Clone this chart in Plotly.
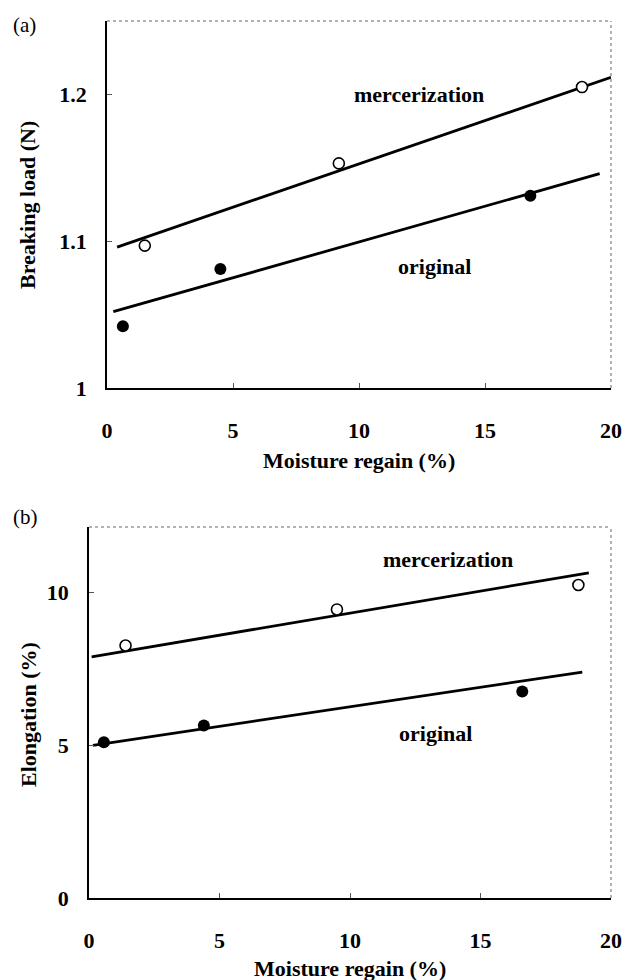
import plotly.graph_objects as go

# ---------------- data ----------------
# Panel (a): breaking load (N) vs moisture regain (%)
merc_a_x = [1.5, 9.2, 18.85]
merc_a_y = [1.097, 1.153, 1.205]
orig_a_x = [0.63, 4.5, 16.8]
orig_a_y = [1.042, 1.081, 1.131]
merc_a_fit_x = [0.4, 20.0]
merc_a_fit_y = [1.096, 1.2116]
orig_a_fit_x = [0.25, 19.55]
orig_a_fit_y = [1.052, 1.146]

# Panel (b): elongation (%) vs moisture regain (%)
merc_b_x = [1.4, 9.5, 18.75]
merc_b_y = [8.27, 9.45, 10.25]
orig_b_x = [0.57, 4.4, 16.6]
orig_b_y = [5.1, 5.65, 6.76]
merc_b_fit_x = [0.1, 19.15]
merc_b_fit_y = [7.9, 10.65]
orig_b_fit_x = [0.15, 18.9]
orig_b_fit_y = [5.0, 7.4]

x_ticks = [0, 5, 10, 15, 20]
y_ticks_a = [1, 1.1, 1.2]
y_ticks_b = [0, 5, 10]

# ---------------- figure ----------------
W, H = 626, 980
FONT = "Liberation Serif"


def px_x(p):
    return p / W


def px_y(p):
    return 1 - p / H


fig = go.Figure()

line_style = dict(color="black", width=2.8)
open_marker = dict(symbol="circle", size=11, color="white",
                   line=dict(color="black", width=1.6))
filled_marker = dict(symbol="circle", size=12, color="black",
                     line=dict(color="black", width=0))

# panel (a)
fig.add_trace(go.Scatter(x=merc_a_fit_x, y=merc_a_fit_y, mode="lines",
                         line=line_style, xaxis="x", yaxis="y", showlegend=False))
fig.add_trace(go.Scatter(x=orig_a_fit_x, y=orig_a_fit_y, mode="lines",
                         line=line_style, xaxis="x", yaxis="y", showlegend=False))
fig.add_trace(go.Scatter(x=merc_a_x, y=merc_a_y, mode="markers",
                         marker=open_marker, xaxis="x", yaxis="y", showlegend=False))
fig.add_trace(go.Scatter(x=orig_a_x, y=orig_a_y, mode="markers",
                         marker=filled_marker, xaxis="x", yaxis="y", showlegend=False))

# panel (b)
fig.add_trace(go.Scatter(x=merc_b_fit_x, y=merc_b_fit_y, mode="lines",
                         line=line_style, xaxis="x2", yaxis="y2", showlegend=False))
fig.add_trace(go.Scatter(x=orig_b_fit_x, y=orig_b_fit_y, mode="lines",
                         line=line_style, xaxis="x2", yaxis="y2", showlegend=False))
fig.add_trace(go.Scatter(x=merc_b_x, y=merc_b_y, mode="markers",
                         marker=open_marker, xaxis="x2", yaxis="y2", showlegend=False))
fig.add_trace(go.Scatter(x=orig_b_x, y=orig_b_y, mode="markers",
                         marker=filled_marker, xaxis="x2", yaxis="y2", showlegend=False))

tickfont = dict(family=FONT, size=22, color="black", weight="bold")
axis_common = dict(showgrid=False, zeroline=False, showline=True,
                   linecolor="black", linewidth=1.5, ticks="inside",
                   ticklen=5, tickwidth=1, tickcolor="#555",
                   tickfont=tickfont, automargin=False, fixedrange=True)

# plot-area pixel boxes (left, right, top, bottom)
box_a = (107, 611, 21, 388)
box_b = (89, 611, 527, 898)

fig.update_layout(
    width=W, height=H,
    margin=dict(l=0, r=0, t=0, b=0),
    paper_bgcolor="white", plot_bgcolor="white",
    xaxis=dict(domain=[px_x(box_a[0]), px_x(box_a[1])], range=[0, 20],
               tickvals=x_ticks, anchor="y", ticklabelstandoff=22, **axis_common),
    yaxis=dict(domain=[px_y(box_a[3]), px_y(box_a[2])], range=[1, 1.25],
               tickvals=y_ticks_a, anchor="x", ticklabelstandoff=14, **axis_common),
    xaxis2=dict(domain=[px_x(box_b[0]), px_x(box_b[1])], range=[0, 20],
                tickvals=x_ticks, anchor="y2", ticklabelstandoff=22, **axis_common),
    yaxis2=dict(domain=[px_y(box_b[3]), px_y(box_b[2])], range=[0, 12.15],
                tickvals=y_ticks_b, anchor="x2", ticklabelstandoff=14, **axis_common),
)

# dotted top/right frame edges (as in the scanned figure)
for (l, r, t, b) in (box_a, box_b):
    fr = dict(type="line", xref="paper", yref="paper",
              line=dict(color="#666", width=1, dash="dot"))
    fig.add_shape(x0=px_x(l), x1=px_x(r), y0=px_y(t), y1=px_y(t), **fr)
    fig.add_shape(x0=px_x(r), x1=px_x(r), y0=px_y(b), y1=px_y(t), **fr)

bold = dict(family=FONT, size=22, color="black", weight="bold")
plain = dict(family=FONT, size=21, color="black")

annotations = [
    # series labels
    dict(text="mercerization", x=12.4, y=1.200, xref="x", yref="y", font=bold),
    dict(text="original", x=13.0, y=1.083, xref="x", yref="y", font=bold),
    dict(text="mercerization", x=13.74, y=11.1, xref="x2", yref="y2", font=bold),
    dict(text="original", x=13.28, y=5.4, xref="x2", yref="y2", font=bold),
    # axis titles
    dict(text="Moisture regain (%)", x=px_x(359), y=px_y(460),
         xref="paper", yref="paper", font=bold),
    dict(text="Breaking load (N)", x=px_x(28), y=px_y(205),
         xref="paper", yref="paper", font=bold, textangle=-90),
    dict(text="Moisture regain (%)", x=px_x(350), y=px_y(968),
         xref="paper", yref="paper", font=bold),
    dict(text="Elongation (%)", x=px_x(28), y=px_y(715),
         xref="paper", yref="paper", font=bold, textangle=-90),
    # panel labels
    dict(text="(a)", x=px_x(24), y=px_y(25), xref="paper", yref="paper", font=plain),
    dict(text="(b)", x=px_x(25), y=px_y(517), xref="paper", yref="paper", font=plain),
]
for a in annotations:
    a.update(showarrow=False, xanchor="center", yanchor="middle")
    fig.add_annotation(**a)

# remove the browser's default 8px body margin so the 626x980 figure fills the window
fig.write_html("out.html",
               config={"displayModeBar": False},
               post_script="document.body.style.margin='0';document.body.style.overflow='hidden';")
